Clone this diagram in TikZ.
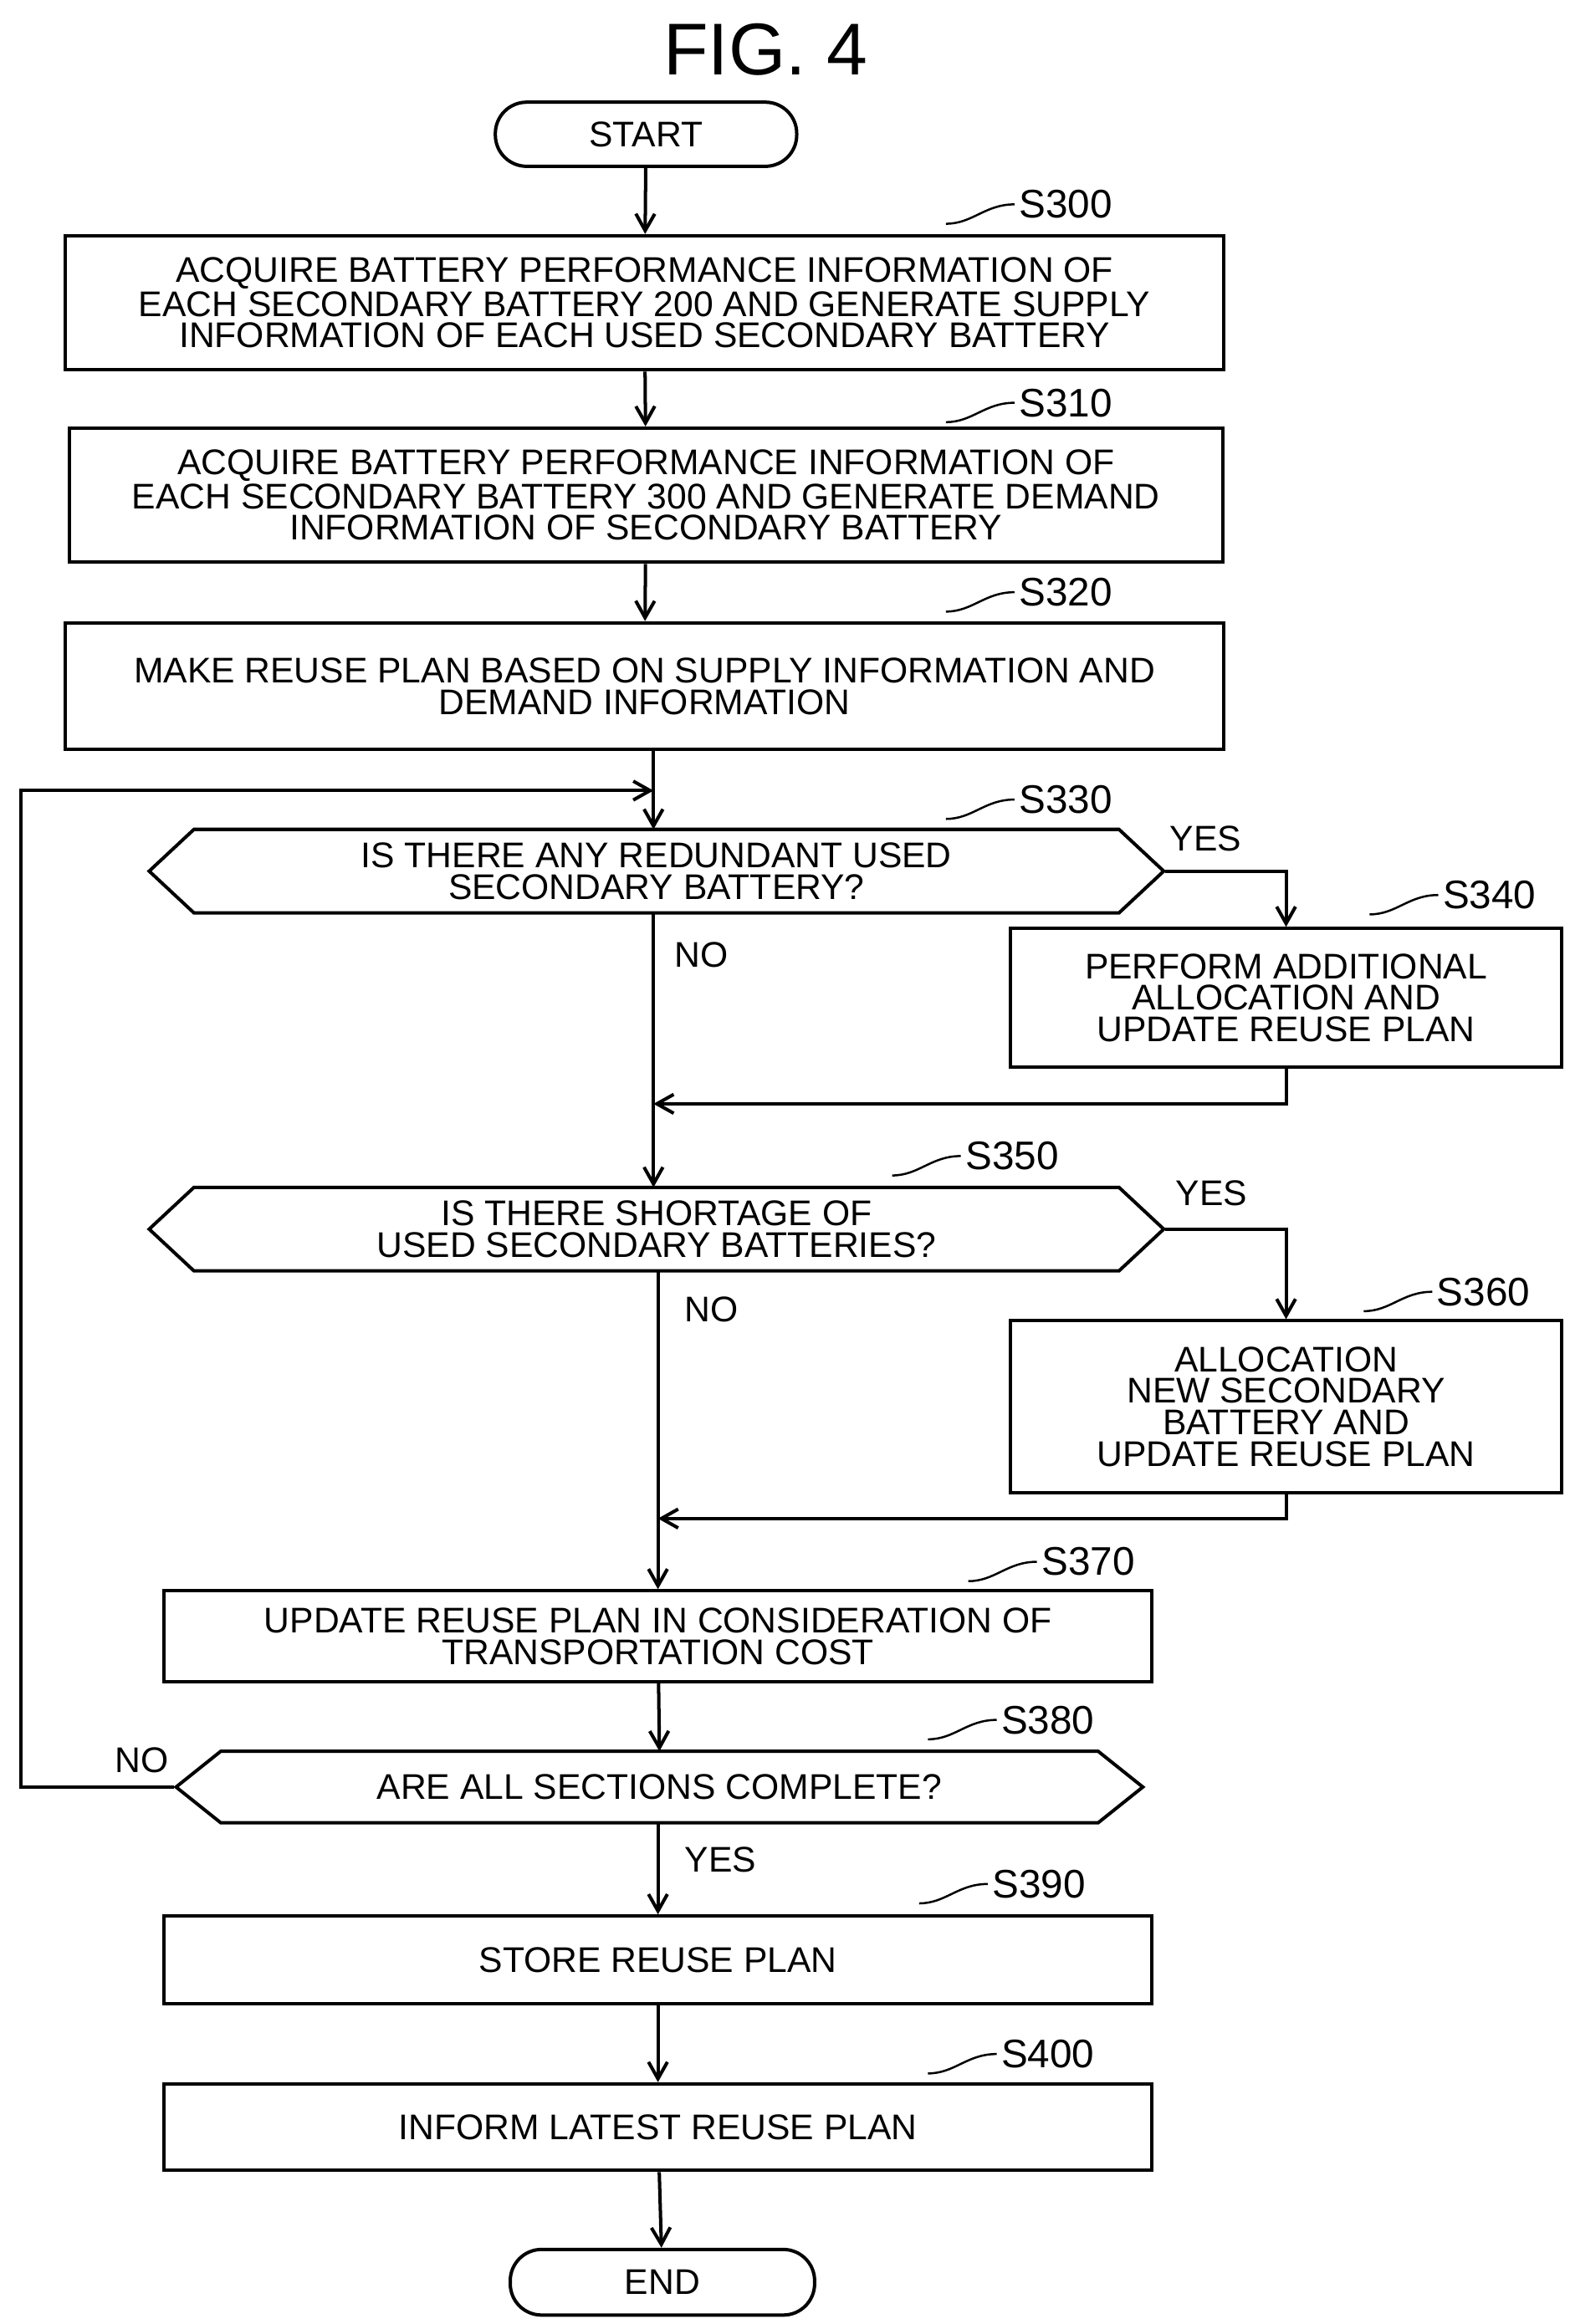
\documentclass[tikz,border=0pt]{standalone}
\usepackage{fontspec}
\setmainfont{Liberation Sans}
\usetikzlibrary{arrows.meta}
\newdimen\pxu \pxu=0.025cm
\begin{document}
\begin{tikzpicture}[x=\pxu, y=-\pxu,
                >={Straight Barb[length=8pt,width=9pt]}, % arrow head style
                line width=1.6pt,
                font=\fontsize{17}{15}\selectfont
            ]

            \tikzset{box/.style={draw, rectangle, align=center, inner sep=0pt},
            term/.style={draw, rounded corners=21\pxu, minimum width=202\pxu,
            minimum height=43\pxu},
            cond/.style={align=center, inner sep=0pt},
            lbl/.style={inner sep=0pt, font=\fontsize{19}{19}\selectfont}}

            % step label with small wave
            \newcommand{\steplbl}[3]{\node[lbl, anchor=west] at (#1,#2) {#3};
            \draw[line width=1pt] (#1-48,#2+13) .. controls (#1-30,#2+13) and (#1-22,#2) .. (#1-2,#2);}

            % hexagon decision outline
            \newcommand{\hexa}[4]{\draw (#1,#3) -- (#1+30,#3-#4) -- (#2-30,#3-#4) -- (#2,#3)
            -- (#2-30,#3+#4) -- (#1+30,#3+#4) -- cycle;}

            \useasboundingbox (0,0) rectangle (1052,1558);

            \node[font=\fontsize{35}{35}\selectfont] (title) at (513,33) {FIG. 4};

            \node[term] (start) at (433,90) {START};
            \node[box, minimum width=776\pxu, minimum height=90\pxu] (s300) at (432,203)
            {ACQUIRE BATTERY PERFORMANCE INFORMATION OF\\EACH SECONDARY BATTERY 200 AND GENERATE SUPPLY\\INFORMATION OF EACH USED SECONDARY BATTERY};
            \node[box, minimum width=773\pxu, minimum height=90\pxu] (s310) at (433,332)
            {ACQUIRE BATTERY PERFORMANCE INFORMATION OF\\EACH SECONDARY BATTERY 300 AND GENERATE DEMAND\\INFORMATION OF SECONDARY BATTERY};
            \node[box, minimum width=776\pxu, minimum height=85\pxu] (s320) at (432,460)
            {MAKE REUSE PLAN BASED ON SUPPLY INFORMATION AND\\DEMAND INFORMATION};

            \hexa{100}{780}{584}{28}
            \node[cond, minimum width=680\pxu, minimum height=56\pxu] (s330) at (440,584)
            {IS THERE ANY REDUNDANT USED\\SECONDARY BATTERY?};
            \node[box, minimum width=369\pxu, minimum height=93\pxu] (s340) at (862,669)
            {PERFORM ADDITIONAL\\ALLOCATION AND\\UPDATE REUSE PLAN};

            \hexa{100}{780}{824}{28}
            \node[cond, minimum width=680\pxu, minimum height=56\pxu] (s350) at (440,824)
            {IS THERE SHORTAGE OF\\USED SECONDARY BATTERIES?};
            \node[box, minimum width=369\pxu, minimum height=115\pxu] (s360) at (862,943)
            {ALLOCATION\\NEW SECONDARY\\BATTERY AND\\UPDATE REUSE PLAN};

            \node[box, minimum width=662\pxu, minimum height=61\pxu] (s370) at (441,1097)
            {UPDATE REUSE PLAN IN CONSIDERATION OF\\TRANSPORTATION COST};
            \hexa{118}{766}{1198}{24}
            \node[cond, minimum width=648\pxu, minimum height=48\pxu] (s380) at (442,1198)
            {ARE ALL SECTIONS COMPLETE?};
            \node[box, minimum width=662\pxu, minimum height=59\pxu] (s390) at (441,1314)
            {STORE REUSE PLAN};
            \node[box, minimum width=662\pxu, minimum height=58\pxu] (s400) at (441,1426)
            {INFORM LATEST REUSE PLAN};
            \node[term, minimum width=204\pxu, minimum height=44\pxu] (end) at (444,1530) {END};

            \coordinate (loop) at (14,530);
            \coordinate (j1) at (438,740);
            \coordinate (j2) at (441,1018);

            \steplbl{682}{137}{S300}
            \steplbl{682}{270}{S310}
            \steplbl{682}{397}{S320}
            \steplbl{682}{536}{S330}
            \steplbl{966}{600}{S340}
            \steplbl{646}{775}{S350}
            \steplbl{962}{866}{S360}
            \steplbl{697}{1047}{S370}
            \steplbl{670}{1153}{S380}
            \steplbl{664}{1263}{S390}
            \steplbl{670}{1377}{S400}

            \node[inner sep=0pt] at (808,562) {YES};
            \node[inner sep=0pt] at (470,640) {NO};
            \node[inner sep=0pt] at (812,800) {YES};
            \node[inner sep=0pt] at (477,878) {NO};
            \node[inner sep=0pt] at (95,1180) {NO};
            \node[inner sep=0pt] at (483,1247) {YES};

            \draw[->] (start) -- (s300);
            \draw[->] (s300) -- (s310);
            \draw[->] (s310) -- (s320);
            \draw[->] (s320.south -| 438,0) -- (438,556);
            \draw[->] (s330.east) -| (s340.north);
            \draw[->] (438,612) -- (438,796);
            \draw[->] (s340.south) |- (j1);
            \draw[->] (s350.east) -| (s360.north);
            \draw[->] (441,852) -- (s370.north);
            \draw[->] (s360.south) |- (j2);
            \draw[->] (s370) -- (442,1174);
            \draw[->] (s380.west) -| (loop) -- (438,530);
            \draw[->] (441,1222) -- (s390.north);
            \draw[->] (s390) -- (s400);
            \draw[->] (s400) -- (end);
\end{tikzpicture}
\end{document}
